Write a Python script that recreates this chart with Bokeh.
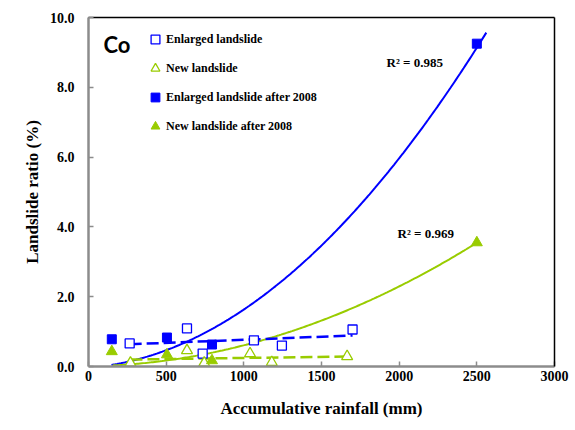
import numpy as np
from bokeh.plotting import figure
from bokeh.models import (Range1d, LinearAxis, Legend, LegendItem, Label,
                          PrintfTickFormatter, FixedTicker)
from bokeh.embed import file_html
from bokeh.resources import INLINE

# ---- data ----
enl_x = [265, 634, 735, 1065, 1245, 1700]
enl_y = [0.66, 1.09, 0.37, 0.75, 0.60, 1.06]

new_x = [270, 634, 745, 1040, 1180, 1665]
new_y = [0.10, 0.46, 0.10, 0.37, 0.12, 0.29]

enl08_x = [150, 505, 795, 2500]
enl08_y = [0.78, 0.83, 0.63, 9.25]

new08_x = [150, 505, 795, 2500]
new08_y = [0.43, 0.34, 0.17, 3.55]

# trend curves
trend_enl_x = [148, 503, 1077, 1239, 1368, 1516, 1626, 1774, 1839, 2013, 2142, 2316, 2510, 2561]
trend_enl_y = [0.06, 0.46, 1.87, 2.39, 2.93, 3.50, 4.08, 4.74, 5.11, 6.09, 6.81, 7.82, 9.25, 9.54]
trend_new_x = [155, 505, 723, 1000, 1303, 1477, 1671, 1994, 2316, 2500]
trend_new_y = [0.00, 0.23, 0.34, 0.57, 1.00, 1.29, 1.64, 2.24, 3.07, 3.55]

r2_labels = ["R\u00b2 = 0.985", "R\u00b2 = 0.969"]
x_ticks = [0, 500, 1000, 1500, 2000, 2500, 3000]
y_ticks = [0, 2, 4, 6, 8, 10]

BLUE = "#0000FF"
GREEN = "#99CC00"
SERIF = "Liberation Serif"

p = figure(frame_width=466, frame_height=349, width=575, height=430,
           x_range=Range1d(0, 3000), y_range=Range1d(0, 10),
           output_backend="svg", toolbar_location=None,
           min_border_left=88, min_border_right=21, min_border_top=17,
           min_border_bottom=64)
p.outline_line_color = None
p.xgrid.visible = False
p.ygrid.visible = False
p.background_fill_color = "white"
p.border_fill_color = "white"

for ax in (p.xaxis[0], p.yaxis[0]):
    ax.axis_line_color = "#8c8c8c"
    ax.axis_line_width = 2.5
    ax.major_tick_line_color = "#8c8c8c"
    ax.major_tick_line_width = 1.5
    ax.major_tick_in = 5
    ax.major_tick_out = 0
    ax.minor_tick_line_color = None
    ax.major_label_text_font = SERIF
    ax.major_label_text_font_style = "bold"
    ax.major_label_text_font_size = "14px"
    ax.major_label_text_color = "black"
    ax.axis_label_text_font = SERIF
    ax.axis_label_text_font_style = "bold"
    ax.axis_label_text_font_size = "17px"
    ax.axis_label_text_color = "black"

p.xaxis.ticker = FixedTicker(ticks=x_ticks)
p.yaxis.ticker = FixedTicker(ticks=y_ticks)
p.yaxis.formatter = PrintfTickFormatter(format="%.1f")
p.xaxis.axis_label = "Accumulative rainfall (mm)"
p.yaxis.axis_label = "Landslide ratio (%)"
p.xaxis.major_label_standoff = 4
p.xaxis.axis_label_standoff = 15
p.yaxis.major_label_standoff = 14
p.yaxis.axis_label_standoff = 5

for loc in ("above", "right"):
    a = LinearAxis(axis_line_color="black", axis_line_width=1.5,
                   ticker=FixedTicker(ticks=[]),
                   major_tick_line_color=None, minor_tick_line_color=None,
                   major_label_standoff=0)
    p.add_layout(a, loc)

# trendlines
c1 = np.polyfit(trend_enl_x, trend_enl_y, 2)
xs1 = np.linspace(min(trend_enl_x), max(trend_enl_x), 200)
p.line(xs1, np.polyval(c1, xs1), line_color=BLUE, line_width=2)
c2 = np.polyfit(trend_new_x, trend_new_y, 2)
xs2 = np.linspace(min(trend_new_x), max(trend_new_x), 200)
p.line(xs2, np.polyval(c2, xs2), line_color=GREEN, line_width=2)

# linear fits of the open-marker series
l1 = np.polyfit(enl_x, enl_y, 1)
lx1 = np.array([min(enl_x), max(enl_x)])
p.line(lx1, np.polyval(l1, lx1), line_color=BLUE, line_width=2.5, line_dash="12 5")
l2 = np.polyfit(new_x, new_y, 1)
lx2 = np.array([min(new_x), max(new_x)])
p.line(lx2, np.polyval(l2, lx2), line_color=GREEN, line_width=2.5, line_dash="12 5")

r_enl = p.scatter(enl_x, enl_y, marker="square", size=9, line_color=BLUE,
                  fill_color="white", line_width=1.3)
r_new = p.scatter(new_x, new_y, marker="triangle", size=11, line_color=GREEN,
                  fill_color="white", line_width=1.3)
r_enl08 = p.scatter(enl08_x, enl08_y, marker="square", size=9, line_color=BLUE,
                    fill_color=BLUE)
r_new08 = p.scatter(new08_x, new08_y, marker="triangle", size=11, line_color=GREEN,
                    fill_color=GREEN)

legend = Legend(items=[
    LegendItem(label="Enlarged landslide", renderers=[r_enl]),
    LegendItem(label="New landslide", renderers=[r_new]),
    LegendItem(label="Enlarged landslide after 2008", renderers=[r_enl08]),
    LegendItem(label="New landslide after 2008", renderers=[r_new08]),
], location=(56, 228), padding=0, margin=0, spacing=5,
    glyph_width=22, glyph_height=24, label_height=20, label_standoff=0,
    label_text_font=SERIF, label_text_font_style="bold",
    label_text_font_size="12px", label_text_color="black",
    border_line_color=None, background_fill_alpha=0)
p.add_layout(legend, "center")

p.add_layout(Label(x=15, y=322, x_units="screen", y_units="screen", text="Co",
                   text_font="Lato", text_font_style="bold", text_font_size="22px",
                   text_baseline="middle", text_color="black"))
p.add_layout(Label(x=298, y=304, x_units="screen", y_units="screen", text=r2_labels[0],
                   text_font=SERIF, text_font_style="bold", text_font_size="13px",
                   text_baseline="middle", text_color="black"))
p.add_layout(Label(x=309, y=133, x_units="screen", y_units="screen", text=r2_labels[1],
                   text_font=SERIF, text_font_style="bold", text_font_size="13px",
                   text_baseline="middle", text_color="black"))

open("out.html", "w").write(file_html(p, INLINE))
